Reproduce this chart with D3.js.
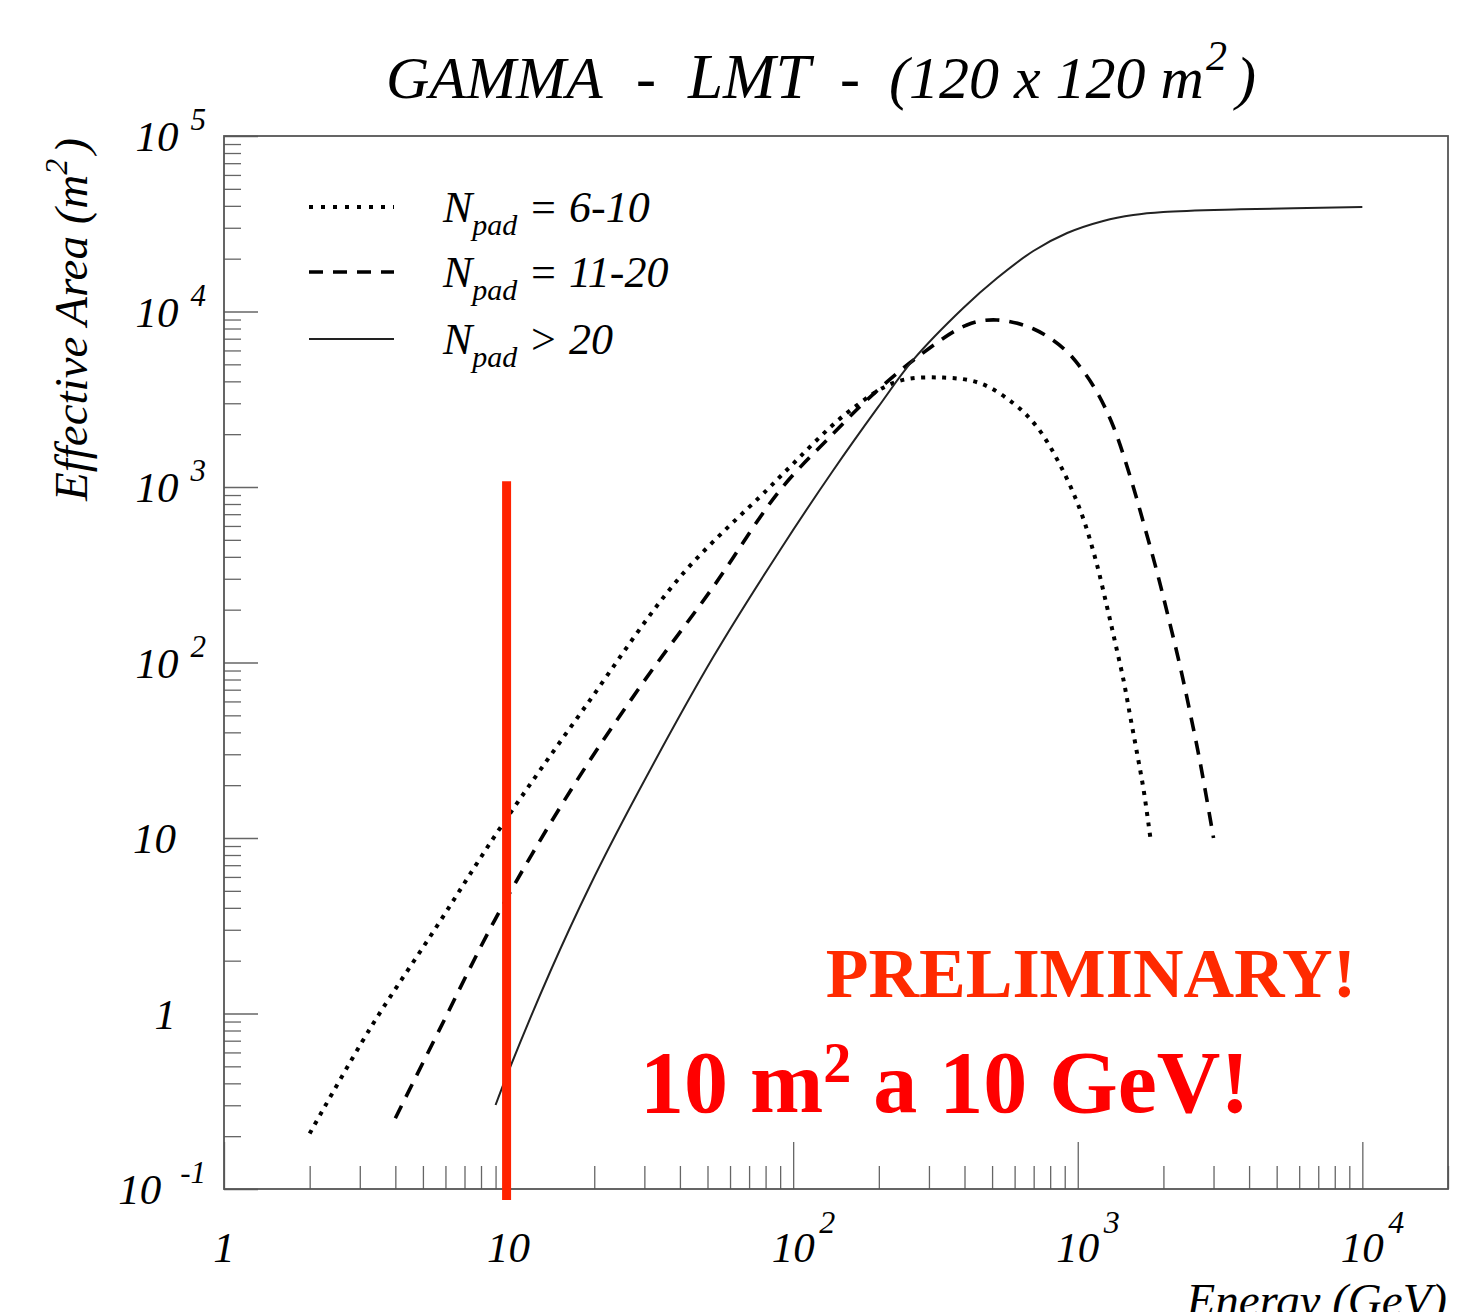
<!DOCTYPE html>
<html>
<head>
<meta charset="utf-8">
<script src="https://cdn.jsdelivr.net/npm/d3@7/dist/d3.min.js"></script>
<style>
body { margin: 0; background: #fff; }
svg { display: block; font-family: "Liberation Serif", "Times New Roman", serif; }
</style>
</head>
<body>
<svg id="chart"></svg>
<script>
// Datos.

// Npad = 6-10 (punteada)
const energy_6_10 = [2, 3.26, 5.59, 9.34, 18.6, 40.1, 80.8, 95, 154, 231, 337, 454, 594, 719, 867, 1020, 1152, 1267, 1355, 1449, 1530, 1616, 1704, 1800];
const area_6_10   = [0.207, 0.82, 3.13, 11.4, 56, 308, 961, 1250, 2630, 3980, 4200, 3900, 3000, 2200, 1335, 739, 393, 208, 129, 79, 49, 30.4, 18.8, 10];

// Npad = 11-20 (segmentada)
const energy_11_20 = [4, 5.74, 9.21, 16.7, 29, 52.4, 90, 138.6, 181.6, 265, 408, 520, 700, 892, 1020, 1168, 1336, 1530, 1704, 1898, 2085, 2291, 2484, 2695, 3000];
const area_11_20   = [0.253, 0.82, 3.72, 19.2, 72.8, 270, 961, 2023, 3133, 5290, 8380, 8950, 7950, 6150, 4830, 3477, 2197, 1140, 621, 329, 179, 94.6, 51.4, 26.7, 10];

// Npad > 20 (continua)
const energy_20 = [9, 10, 14, 19.3, 28.3, 52.3, 90, 137, 199, 264, 396, 521, 698, 918, 1229, 1567, 1998, 3725, 10000];
const area_20   = [0.301, 0.47, 1.73, 5.33, 17.8, 107, 438, 1217, 2858, 5295, 10470, 15520, 22120, 28000, 32800, 35470, 36900, 38200, 39400];

const legend_labels = [["N", "pad", " = 6-10"], ["N", "pad", " = 11-20"], ["N", "pad", " > 20"]];

const x_domain = [1, 2e4];
const y_domain = [0.1, 1e5];

const x_tick_values = [1, 10, 100, 1000, 10000];
const x_tick_base = ["1", "10", "10", "10", "10"];
const x_tick_exp  = ["", "", "2", "3", "4"];

const y_tick_values = [0.1, 1, 10, 100, 1000, 10000, 100000];
const y_tick_base = ["10", "1", "10", "10", "10", "10", "10"];
const y_tick_exp  = ["-1", "", "", "2", "3", "4", "5"];

// Linea roja en 10 GeV
const red_line_energy = 10;
const red_line_area = [0.0866, 1080];

// Configuracion.
const WIDTH = 1469;
const HEIGHT = 1312;
const FRAME = { left: 224, right: 1448, top: 136, bottom: 1189 };

const svg = d3.select('svg#chart')
                .attr('width', WIDTH)
                .attr('height', HEIGHT);

svg.append('rect').attr('width', WIDTH).attr('height', HEIGHT).attr('fill', '#fff');

const x = d3.scaleLog().domain(x_domain).range([FRAME.left, FRAME.right]);
const y = d3.scaleLog().domain(y_domain).range([FRAME.bottom, FRAME.top]);

// ticks menores 2..9 de cada decada
const minor_ticks = (domain) => {
    const out = [];
    for (let d = Math.floor(Math.log10(domain[0])); d <= Math.ceil(Math.log10(domain[1])); d++) {
        for (let k = 2; k <= 9; k++) {
            const v = k * Math.pow(10, d);
            if (v > domain[0] && v < domain[1] * 1.001) out.push(v);
        }
    }
    return out;
};

const axes = svg.append('g').attr('id', 'axes');

// Eje X (ticks hacia arriba)
axes.append('g')
    .attr('transform', `translate(0, ${FRAME.bottom})`)
    .call(d3.axisBottom(x).tickValues(minor_ticks(x_domain)).tickSizeInner(-23).tickSizeOuter(0).tickFormat(''))
    .call(g => g.select('.domain').remove());
axes.append('g')
    .attr('transform', `translate(0, ${FRAME.bottom})`)
    .call(d3.axisBottom(x).tickValues(x_tick_values).tickSizeInner(-47).tickSizeOuter(0).tickFormat(''))
    .call(g => g.select('.domain').remove());

// Eje Y (ticks hacia la derecha)
axes.append('g')
    .attr('transform', `translate(${FRAME.left}, 0)`)
    .call(d3.axisLeft(y).tickValues(minor_ticks(y_domain)).tickSizeInner(-17).tickSizeOuter(0).tickFormat(''))
    .call(g => g.select('.domain').remove());
axes.append('g')
    .attr('transform', `translate(${FRAME.left}, 0)`)
    .call(d3.axisLeft(y).tickValues(y_tick_values).tickSizeInner(-34).tickSizeOuter(0).tickFormat(''))
    .call(g => g.select('.domain').remove());

axes.selectAll('.tick line')
    .attr('stroke', '#666')
    .attr('stroke-width', 1.3);

// Marco
axes.append('rect')
    .attr('x', FRAME.left)
    .attr('y', FRAME.top)
    .attr('width', FRAME.right - FRAME.left)
    .attr('height', FRAME.bottom - FRAME.top)
    .attr('fill', 'none')
    .attr('stroke', '#555')
    .attr('stroke-width', 1.8);

// Etiquetas eje X
const x_labels = svg.append('g').attr('font-style', 'italic').attr('fill', '#000');
x_tick_values.forEach((v, i) => {
    x_labels.append('text')
        .attr('x', x(v))
        .attr('y', 1262)
        .attr('text-anchor', 'middle')
        .attr('font-size', 43)
        .text(x_tick_base[i]);
    if (x_tick_exp[i]) {
        x_labels.append('text')
            .attr('x', x(v) + 26)
            .attr('y', 1233)
            .attr('font-size', 32)
            .text(x_tick_exp[i]);
    }
});

// Etiquetas eje Y
const y_labels = svg.append('g').attr('font-style', 'italic').attr('fill', '#000');
y_tick_values.forEach((v, i) => {
    const t = y_labels.append('text')
        .attr('x', y_tick_exp[i] ? 206 : 176)
        .attr('y', y(v) + 15)
        .attr('text-anchor', 'end')
        .attr('font-size', 43);
    t.append('tspan').text(y_tick_base[i]);
    if (y_tick_exp[i]) {
        t.append('tspan')
            .attr('dx', y_tick_exp[i].length > 1 ? 19 : 12)
            .attr('dy', -21)
            .attr('font-size', 31)
            .text(y_tick_exp[i]);
    }
});

// Titulos
const title = svg.append('text')
    .attr('y', 98)
    .attr('font-size', 60)
    .attr('font-style', 'italic')
    .style('white-space', 'pre');
title.append('tspan').attr('x', 386).text('GAMMA');
title.append('tspan').attr('x', 636).text('-');
title.append('tspan').attr('x', 688).attr('font-size', 63).text('LMT');
title.append('tspan').attr('x', 840).text('-');
title.append('tspan').attr('x', 889).text('(120 x 120 m');
title.append('tspan').attr('dy', -28).attr('dx', 2).attr('font-size', 42).text('2');
title.append('tspan').attr('dy', 28).attr('dx', 9).text(')');

const ytitle = svg.append('text')
    .attr('transform', `translate(87, 501) rotate(-90)`)
    .attr('font-size', 47)
    .attr('font-style', 'italic');
ytitle.append('tspan').text('Effective Area (m');
ytitle.append('tspan').attr('dy', -20).attr('font-size', 32).text('2');
ytitle.append('tspan').attr('dy', 20).attr('dx', 5).text(')');

svg.append('text')
    .attr('x', 1447)
    .attr('y', 1316)
    .attr('text-anchor', 'end')
    .attr('font-size', 47)
    .attr('font-style', 'italic')
    .text('Energy (GeV)');

// Curvas
const line = d3.line()
    .x(d => x(d[0]))
    .y(d => y(d[1]))
    .curve(d3.curveCatmullRom.alpha(0.5));

const series = [
    { e: energy_6_10, a: area_6_10, dash: '4,6.5', width: 4, color: '#000' },
    { e: energy_11_20, a: area_11_20, dash: '14,10', width: 3.6, color: '#000' },
    { e: energy_20, a: area_20, dash: null, width: 2, color: '#222' },
];

const curves = svg.append('g').attr('id', 'curves');
curves.selectAll('path.curva')
    .data(series)
    .join('path')
        .attr('class', 'curva')
        .attr('d', s => line(d3.zip(s.e, s.a)))
        .attr('fill', 'none')
        .attr('stroke', s => s.color)
        .attr('stroke-width', s => s.width)
        .attr('stroke-dasharray', s => s.dash);

// Leyenda
const legend = svg.append('g').attr('id', 'legend');
const legend_y = [207, 272, 339];
series.forEach((s, i) => {
    legend.append('line')
        .attr('x1', 309).attr('x2', 394)
        .attr('y1', legend_y[i]).attr('y2', legend_y[i])
        .attr('stroke', s.color)
        .attr('stroke-width', s.width)
        .attr('stroke-dasharray', i === 0 ? '4,8' : s.dash);
    const t = legend.append('text')
        .attr('x', 443)
        .attr('y', legend_y[i] + 15)
        .attr('font-size', 44)
        .attr('font-style', 'italic')
        .style('white-space', 'pre');
    t.append('tspan').text(legend_labels[i][0]);
    t.append('tspan').attr('dy', 13).attr('font-size', 30).text(legend_labels[i][1]);
    t.append('tspan').attr('dy', -13).text(legend_labels[i][2]);
});

// Linea roja
svg.append('line')
    .attr('x1', x(red_line_energy) - 2).attr('x2', x(red_line_energy) - 2)
    .attr('y1', y(red_line_area[0])).attr('y2', y(red_line_area[1]))
    .attr('stroke', '#ff2200')
    .attr('stroke-width', 9);

// Textos rojos
svg.append('text')
    .attr('x', 1356)
    .attr('y', 997)
    .attr('text-anchor', 'end')
    .attr('font-size', 70)
    .attr('font-weight', 'bold')
    .attr('fill', '#ff2a00')
    .text('PRELIMINARY!');

const nota = svg.append('text')
    .attr('x', 640)
    .attr('y', 1112)
    .attr('font-size', 88)
    .attr('font-weight', 'bold')
    .attr('fill', '#ff0000');
nota.append('tspan').text('10 m');
nota.append('tspan').attr('dy', -30).attr('font-size', 56).text('2');
nota.append('tspan').attr('dy', 30).text(' a 10 GeV!');
</script>
</body>
</html>
